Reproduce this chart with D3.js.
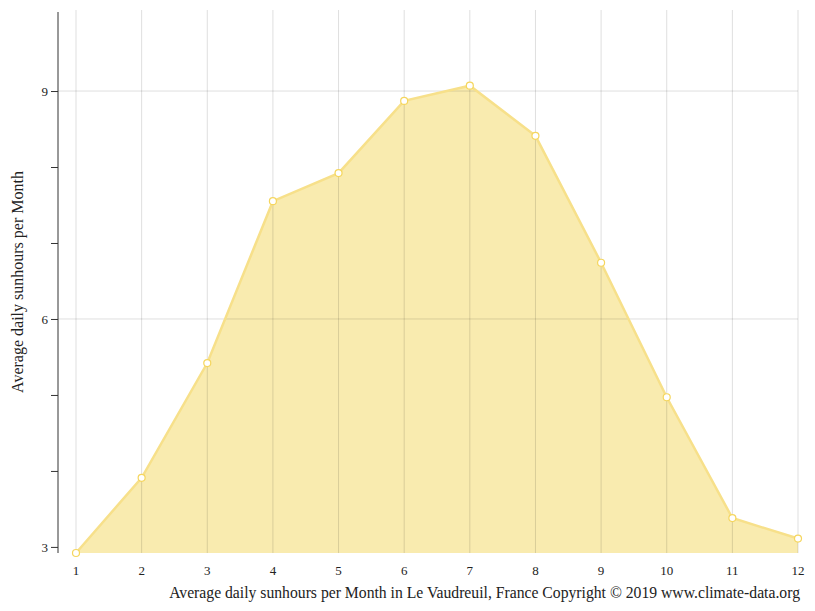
<!DOCTYPE html>
<html><head><meta charset="utf-8">
<script src="https://cdn.jsdelivr.net/npm/d3@7"></script>
<style>body{margin:0;background:#fff}text{font-family:"Liberation Serif","Times New Roman",serif}</style>
</head><body><svg id="c" width="815" height="611"></svg>
<script>
const months=[1,2,3,4,5,6,7,8,9,10,11,12];
const sunhours=[2.92,3.91,5.42,7.55,7.92,8.87,9.07,8.41,6.74,4.97,3.38,3.11];
const yTickLabels=[3,6,9];
const svg=d3.select("#c");
const x=d3.scaleLinear().domain([1,12]).range([76,798]);
const y=d3.scaleLinear().domain([2.92,10.04]).range([553,12]);
// area
svg.append("path").datum(sunhours)
 .attr("d",d3.area().x((d,i)=>x(months[i])).y0(y(2.92)).y1(d=>y(d)))
 .attr("fill","#f9ebaf");
const g=svg.append("g");
g.selectAll(".vg").data(months).enter().append("line")
 .attr("x1",d=>x(d)).attr("x2",d=>x(d)).attr("y1",10).attr("y2",553)
 .attr("stroke","#000").attr("stroke-opacity",0.13).attr("stroke-width",1);
g.selectAll(".hg").data([6,9]).enter().append("line")
 .attr("x1",58).attr("x2",798).attr("y1",d=>y(d)).attr("y2",d=>y(d))
 .attr("stroke","#000").attr("stroke-opacity",0.13);
svg.append("path").datum(sunhours)
 .attr("d",d3.line().x((d,i)=>x(months[i])).y(d=>y(d)))
 .attr("fill","none").attr("stroke","#f7e08a").attr("stroke-width",2.5);
svg.selectAll(".pt").data(sunhours).enter().append("circle")
 .attr("cx",(d,i)=>x(months[i])).attr("cy",d=>y(d)).attr("r",3.5)
 .attr("fill","#fff").attr("stroke","#f5d65e").attr("stroke-width",1.2);
const ya=svg.append("g").attr("transform","translate(58,0)")
 .call(d3.axisLeft(y).tickValues([3,4,5,6,7,8,9]).tickSize(7).tickFormat(d=>yTickLabels.includes(d)?d:""));
ya.select(".domain").attr("d","M0,12V553").attr("stroke","#333");
ya.selectAll("line").attr("stroke","#333");
ya.selectAll("text").attr("font-size",13).attr("fill","#222").attr("font-family","Liberation Serif");
svg.selectAll(".xl").data(months).enter().append("text")
 .attr("x",d=>x(d)).attr("y",575).attr("text-anchor","middle").attr("font-size",13).attr("fill","#222").text(d=>d);
svg.append("text").attr("transform","translate(23,282) rotate(-90)").attr("text-anchor","middle")
 .attr("font-size",16).attr("fill","#222").text("Average daily sunhours per Month");
svg.append("text").attr("x",800).attr("y",598).attr("text-anchor","end").attr("font-size",15.7).attr("fill","#222")
 .text("Average daily sunhours per Month in Le Vaudreuil, France Copyright © 2019 www.climate-data.org");
</script></body></html>
